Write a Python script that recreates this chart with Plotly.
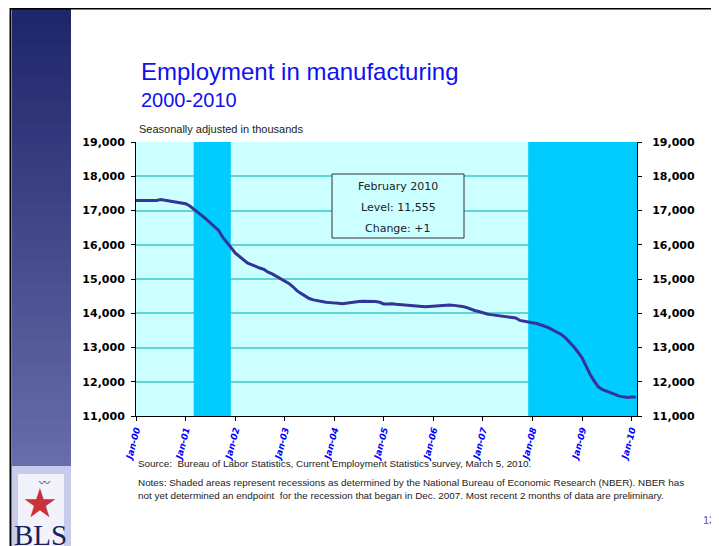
"""Employment in manufacturing, 2000-2010 (BLS slide)."""

import pandas as pd
import plotly.graph_objects as go

# ---- Data (thousands, seasonally adjusted) ---------------------------------

START = "2000-01-01"
EMPLOYMENT = [
    # 2000
    17290, 17290, 17300, 17290, 17300, 17290, 17320, 17300, 17270, 17250, 17230, 17210,
    # 2001
    17200, 17130, 17050, 16950, 16850, 16750, 16640, 16530, 16420, 16220, 16080, 15920,
    # 2002
    15760, 15660, 15550, 15470, 15420, 15360, 15320, 15280, 15200, 15150, 15080, 15020,
    # 2003
    14950, 14870, 14780, 14660, 14580, 14500, 14430, 14390, 14360, 14340, 14320, 14310,
    # 2004
    14310, 14290, 14280, 14300, 14320, 14330, 14340, 14350, 14350, 14340, 14340, 14320,
    # 2005
    14270, 14270, 14280, 14260, 14250, 14240, 14230, 14220, 14200, 14180, 14190, 14200,
    # 2006
    14210, 14220, 14230, 14240, 14240, 14230, 14220, 14200, 14170, 14120, 14080, 14050,
    # 2007
    14010, 13980, 13960, 13940, 13930, 13920, 13900, 13880, 13860, 13790, 13760, 13740,
    # 2008
    13720, 13700, 13670, 13620, 13570, 13510, 13450, 13380, 13280, 13160, 13020, 12870,
    # 2009
    12700, 12450, 12220, 12020, 11850, 11770, 11730, 11680, 11630, 11580, 11550, 11540,
    # 2010
    11554, 11555,
]
DATES = pd.date_range(START, periods=len(EMPLOYMENT), freq="MS")

RECESSIONS = [("2001-03-01", "2001-11-30"), ("2007-12-01", "2010-02-10")]
X_RANGE = ["2000-01-01", "2010-02-10"]
Y_RANGE = [11000, 19000]
Y_TICKS = list(range(11000, 19001, 1000))

BOX_LINES = ["February 2010", "Level: 11,555", "Change: +1"]

# ---- Figure ----------------------------------------------------------------

# page is 719x546; the browser puts the plot 8px in from the top-left corner,
# so the figure is 8px smaller and all page positions are shifted back by 8
OFF = 8
PAGE_W, PAGE_H = 719, 546
W, H = PAGE_W - OFF, PAGE_H - OFF
L, R, T, B = 136, 637, 142, 416   # plot area, page pixels

# "paper" coordinates are relative to the plot area
def px(x):
    return (x - L) / (R - L)

def py(y):
    return (B - y) / (B - T)

fig = go.Figure()
fig.add_trace(go.Scatter(
    x=DATES, y=EMPLOYMENT, mode="lines",
    line=dict(color="#333399", width=3), hoverinfo="skip", showlegend=False,
))
# invisible copy so the right-hand axis gets drawn
fig.add_trace(go.Scatter(
    x=DATES, y=EMPLOYMENT, mode="lines", yaxis="y2", opacity=0,
    hoverinfo="skip", showlegend=False,
))

for x0, x1 in RECESSIONS:
    fig.add_shape(type="rect", xref="x", yref="y", x0=x0, x1=x1,
                  y0=Y_RANGE[0], y1=Y_RANGE[1], fillcolor="#00CCFF",
                  line_width=0, layer="between")

# slide decoration: gradient side band, logo panel, borders
n = 40
top, bot = 9, 466
c0, c1 = (31, 38, 106), (104, 108, 170)
for i in range(n):
    f = i / (n - 1)
    col = "rgb(%d,%d,%d)" % tuple(int(a + (b - a) * f) for a, b in zip(c0, c1))
    y0 = top + (bot - top) * i / n
    y1 = top + (bot - top) * (i + 1) / n + 1
    fig.add_shape(type="rect", xref="paper", yref="paper",
                  x0=px(12), x1=px(71), y0=py(y1), y1=py(y0),
                  fillcolor=col, line_width=0, layer="below")
fig.add_shape(type="rect", xref="paper", yref="paper",
              x0=px(12), x1=px(71), y0=py(PAGE_H + 2), y1=py(bot),
              fillcolor="#C9CBEA", line_width=0, layer="below")
fig.add_shape(type="rect", xref="paper", yref="paper",
              x0=px(18), x1=px(64), y0=py(PAGE_H + 2), y1=py(474),
              fillcolor="#F2F2FA", line_width=0, layer="below")
fig.add_shape(type="line", xref="paper", yref="paper", x0=px(10), x1=px(PAGE_W),
              y0=py(8), y1=py(8), line=dict(color="black", width=3))
fig.add_shape(type="line", xref="paper", yref="paper", x0=px(10.5), x1=px(10.5),
              y0=py(7), y1=py(PAGE_H + 2), line=dict(color="black", width=2))

# text box
fig.add_shape(type="rect", xref="paper", yref="paper",
              x0=px(332), x1=px(464), y0=py(238), y1=py(174),
              fillcolor="#CCFFFF", line=dict(color="#333333", width=1))
for i, txt in enumerate(BOX_LINES):
    fig.add_annotation(xref="paper", yref="paper", x=px(398), y=py(186 + 21 * i),
                       text=txt, showarrow=False, xanchor="center", yanchor="middle",
                       font=dict(family="DejaVu Sans", size=11, color="#222222"))

title_font = "Liberation Sans"
note_font = "Liberation Sans Narrow, Liberation Sans"
texts = [
    (139, 87, "Employment in manufacturing", dict(family=title_font, size=24, color="#1010F0")),
    (139, 113, "2000-2010", dict(family=title_font, size=20, color="#1010F0")),
    (137, 137, "Seasonally adjusted in thousands", dict(family=title_font, size=11, color="#222222")),
    (136, 471, "Source:  Bureau of Labor Statistics, Current Employment Statistics survey, March 5, 2010.",
     dict(family=note_font, size=9.9, color="#222222")),
    (136, 490, "Notes: Shaded areas represent recessions as determined by the National Bureau of "
               "Economic Research (NBER). NBER has",
     dict(family=note_font, size=9.9, color="#222222")),
    (136, 503, "not yet determined an endpoint  for the recession that began in Dec. 2007. "
               "Most recent 2 months of data are preliminary.",
     dict(family=note_font, size=9.9, color="#222222")),
    (701, 528, "13", dict(family=title_font, size=11, color="#5555AA")),
]
for x, y, txt, font in texts:
    fig.add_annotation(xref="paper", yref="paper", x=px(x), y=py(y), text=txt,
                       showarrow=False, xanchor="left", yanchor="bottom", font=font)

# BLS logo
fig.add_annotation(xref="paper", yref="paper", x=px(40), y=py(503), text="★",
                   showarrow=False, xanchor="center", yanchor="middle",
                   font=dict(family="DejaVu Sans", size=40, color="#C8323C"))
fig.add_annotation(xref="paper", yref="paper", x=px(44), y=py(482), text="〰",
                   showarrow=False, xanchor="center", yanchor="middle",
                   font=dict(family="Noto Sans CJK JP", size=11, color="#1F3A93"))
fig.add_annotation(xref="paper", yref="paper", x=px(40), y=py(517), text="BLS",
                   showarrow=False, xanchor="center", yanchor="top",
                   font=dict(family="Liberation Serif", size=29, color="#1A2060"))

tick_font = dict(family="DejaVu Sans", size=11, color="black", weight="bold")
fig.update_layout(
    width=W, height=H, autosize=False,
    margin=dict(l=L - OFF, r=PAGE_W - R, t=T - OFF, b=PAGE_H - B, pad=0),
    paper_bgcolor="white", plot_bgcolor="#CCFFFF",
    showlegend=False,
    xaxis=dict(
        type="date", range=X_RANGE, tick0="2000-01-01", dtick="M12",
        tickformat="%b-%y", tickangle=-75, ticks="outside", ticklen=4,
        tickcolor="black", showgrid=False, showline=True, linecolor="black",
        linewidth=1, zeroline=False,
        tickfont=dict(family="DejaVu Sans", size=9, color="#0000FF",
                      weight="bold", style="italic"),
    ),
    yaxis=dict(
        range=Y_RANGE, tickvals=Y_TICKS, tickformat=",d", ticks="outside",
        ticklen=4, tickcolor="black", showline=True, linecolor="black",
        linewidth=1, gridcolor="#5FD6D6", gridwidth=1.5, zeroline=False,
        tickfont=tick_font, ticklabelstandoff=4,
    ),
    yaxis2=dict(
        range=Y_RANGE, tickvals=Y_TICKS, tickformat=",d", overlaying="y",
        side="right", ticks="outside", ticklen=4, tickcolor="black",
        showline=True, linecolor="black", linewidth=1, showgrid=False,
        zeroline=False, tickfont=tick_font, ticklabelstandoff=8,
    ),
)

fig.write_html("out.html")
